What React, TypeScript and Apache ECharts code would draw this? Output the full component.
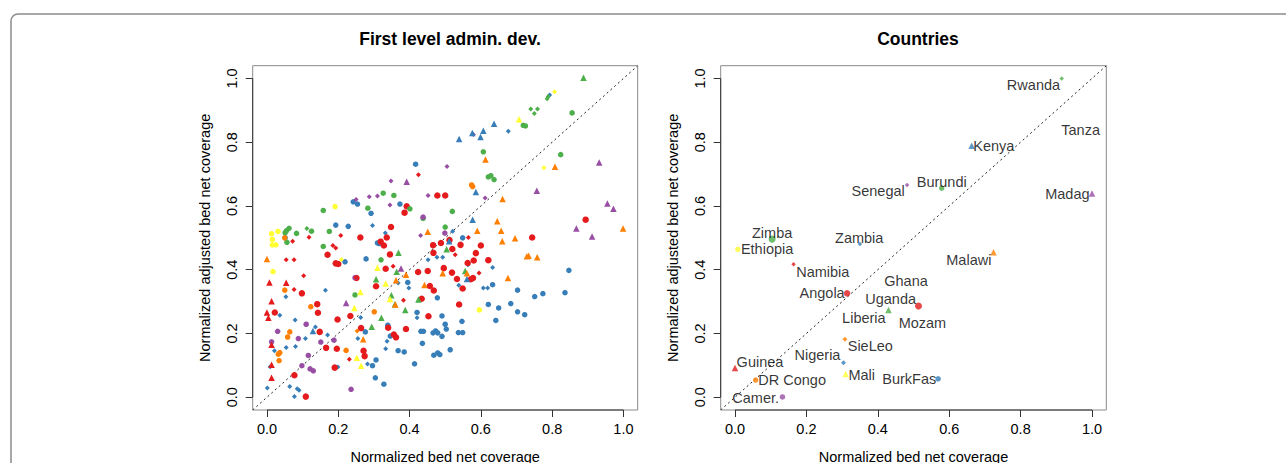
import React, { useEffect, useRef } from "react";
import * as echarts from "echarts";

// ---------- data ----------
const TICKS = [0, 0.2, 0.4, 0.6, 0.8, 1.0];
const AXIS_MIN = -0.04;
const AXIS_MAX = 1.04;

const leftTitle = "First level admin. dev.";
const rightTitle = "Countries";
const xTitle = "Normalized bed net coverage";
const yTitle = "Normalized adjusted bed net coverage";

// Left panel: first-level admin divisions, grouped by colour + symbol
const blueCircle = [
  [0.417,0.731],[0.242,0.613],[0.254,0.606],[0.292,0.577],[0.373,0.606],[0.193,0.540],[0.228,0.536],[0.051,0.500],
  [0.219,0.425],[0.278,0.434],[0.310,0.484],[0.315,0.482],[0.395,0.360],[0.304,0.061],[0.328,0.041],[0.296,0.099],
  [0.306,0.117],[0.276,0.205],[0.339,0.226],[0.346,0.192],[0.368,0.146],[0.385,0.142],[0.414,0.105],[0.436,0.169],
  [0.432,0.207],[0.439,0.207],[0.421,0.266],[0.466,0.202],[0.473,0.208],[0.479,0.202],[0.468,0.132],[0.479,0.139],
  [0.485,0.134],[0.491,0.191],[0.500,0.229],[0.503,0.214],[0.491,0.255],[0.514,0.149],[0.478,0.312],[0.537,0.203],
  [0.549,0.203],[0.547,0.238],[0.549,0.500],[0.633,0.353],[0.621,0.291],[0.650,0.280],[0.642,0.241],[0.684,0.294],
  [0.703,0.268],[0.723,0.259],[0.703,0.336],[0.751,0.316],[0.774,0.325],[0.836,0.328],[0.847,0.398]
];
const blueDiamond = [
  [0.793,0.948],[0.677,0.834],[0.296,0.539],[0.332,0.515],[0.368,0.358],[0.398,0.343],[0.164,0.336],[0.053,0.315],
  [0.036,0.257],[0.079,0.242],[0.136,0.220],[0.170,0.195],[0.108,0.184],[0.021,0.146],[0.054,0.156],[0.080,0.159],
  [0.009,0.096],[0.199,0.095],[0.001,0.029],[0.064,0.034],[0.085,0.027],[0.090,0.022],[0.077,0.002],[0.282,0.104],
  [0.255,0.184],[0.263,0.250],[0.333,0.152],[0.337,0.176],[0.421,0.249],[0.538,0.351],[0.564,0.416],[0.607,0.343],
  [0.619,0.343],[0.633,0.407],[0.521,0.521],[0.452,0.431],[0.477,0.439],[0.493,0.439]
];
const blueTriangle = [
  [0.637,0.858],[0.607,0.836],[0.576,0.829],[0.599,0.816],[0.539,0.810],[0.586,0.644],[0.577,0.557],[0.129,0.208],
  [0.561,0.371],[0.511,0.489]
];
const redCircle = [
  [0.478,0.633],[0.500,0.633],[0.392,0.599],[0.386,0.579],[0.170,0.447],[0.193,0.420],[0.200,0.418],[0.262,0.501],
  [0.319,0.488],[0.336,0.501],[0.348,0.534],[0.345,0.448],[0.333,0.403],[0.306,0.348],[0.251,0.374],[0.141,0.292],
  [0.143,0.265],[0.098,0.326],[0.022,0.266],[0.148,0.205],[0.166,0.155],[0.196,0.152],[0.198,0.244],[0.077,0.069],
  [0.190,0.093],[0.109,0.002],[0.274,0.129],[0.271,0.146],[0.264,0.217],[0.234,0.255],[0.340,0.218],[0.356,0.197],
  [0.362,0.188],[0.390,0.214],[0.434,0.309],[0.453,0.254],[0.468,0.335],[0.457,0.349],[0.451,0.396],[0.424,0.393],
  [0.496,0.405],[0.519,0.391],[0.533,0.371],[0.539,0.291],[0.549,0.341],[0.572,0.370],[0.578,0.374],[0.563,0.421],
  [0.580,0.429],[0.621,0.430],[0.586,0.452],[0.600,0.476],[0.512,0.493],[0.520,0.465],[0.543,0.478],[0.488,0.484],
  [0.466,0.477],[0.467,0.453],[0.744,0.501],[0.894,0.557],[0.328,0.476]
];
const redDiamond = [
  [0.425,0.698],[0.118,0.502],[0.072,0.489],[0.207,0.507],[0.185,0.476],[0.193,0.468],[0.354,0.411],[0.249,0.376],
  [0.103,0.381],[0.076,0.338],[0.054,0.431],[0.076,0.431],[0.231,0.119],[0.383,0.304],[0.528,0.447],[0.565,0.501],
  [0.595,0.390]
];
const redTriangle = [
  [0.054,0.359],[0.007,0.360],[0.013,0.301],[0.000,0.266],[0.004,0.249],[0.013,0.165],[0.013,0.102],[0.013,0.061]
];
const greenCircle = [
  [0.856,0.892],[0.719,0.853],[0.725,0.851],[0.607,0.770],[0.824,0.761],[0.621,0.691],[0.628,0.695],[0.637,0.683],
  [0.326,0.640],[0.356,0.633],[0.283,0.593],[0.401,0.591],[0.520,0.583],[0.158,0.586],[0.175,0.520],[0.062,0.530],
  [0.055,0.523],[0.051,0.516],[0.056,0.486],[0.083,0.514],[0.125,0.521],[0.158,0.473],[0.320,0.431],[0.247,0.321],
  [0.500,0.534],[0.438,0.561]
];
const greenDiamond = [
  [0.789,0.943],[0.786,0.936],[0.740,0.904],[0.759,0.904],[0.750,0.890],[0.112,0.529]
];
const greenTriangle = [
  [0.888,1.002],[0.369,0.453],[0.364,0.394],[0.306,0.370],[0.294,0.221],[0.321,0.249],[0.425,0.307],[0.504,0.464],
  [0.556,0.396],[0.388,0.274],[0.349,0.320],[0.359,0.292]
];
const purpleCircle = [
  [0.438,0.565],[0.499,0.515],[0.247,0.375],[0.030,0.207],[0.110,0.229],[0.188,0.179],[0.151,0.173],[0.088,0.184],
  [0.013,0.174],[0.116,0.131],[0.098,0.099],[0.121,0.089],[0.130,0.083],[0.236,0.025]
];
const purpleDiamond = [
  [0.579,0.824],[0.505,0.724],[0.348,0.678],[0.612,0.625],[0.452,0.633],[0.287,0.629],[0.310,0.631],[0.250,0.620],
  [0.345,0.603],[0.431,0.507]
];
const purpleTriangle = [
  [0.932,0.736],[0.392,0.676],[0.757,0.648],[0.376,0.404],[0.222,0.296],[0.868,0.529],[0.912,0.504],[0.955,0.608],
  [0.972,0.591]
];
const orangeCircle = [
  [0.574,0.666],[0.577,0.661],[0.050,0.500],[0.123,0.284],[0.050,0.336],[0.064,0.205],[0.058,0.189],[0.032,0.135],
  [0.036,0.140],[0.034,0.115],[0.222,0.147],[0.301,0.268]
];
const orangeDiamond = [[0.253,0.208]];
const orangeTriangle = [
  [0.613,0.746],[0.808,0.723],[0.661,0.622],[0.000,0.434],[0.390,0.384],[0.362,0.367],[0.270,0.182],[0.442,0.352],
  [0.493,0.389],[0.561,0.389],[0.676,0.374],[0.646,0.552],[0.590,0.522],[0.657,0.522],[0.660,0.489],[0.696,0.499],
  [0.999,0.529],[0.729,0.442],[0.734,0.444],[0.758,0.439],[0.451,0.519],[0.360,0.291]
];
const yellowCircle = [
  [0.191,0.598],[0.013,0.513],[0.031,0.520],[0.015,0.495],[0.015,0.478],[0.025,0.478],[0.017,0.394],[0.596,0.274]
];
const yellowTriangle = [
  [0.707,0.872],[0.310,0.406],[0.333,0.357],[0.252,0.124],[0.264,0.099],[0.262,0.330],[0.245,0.280],[0.345,0.308]
];
const yellowDiamond = [[0.807,0.958],[0.777,0.720],[0.209,0.432]];

// Right panel: countries
const countryNames = ["Rwanda","Tanza","Kenya","Burundi","Senegal","Madag","Zimba","Ethiopia","Zambia","Namibia",
  "Malawi","Ghana","Angola","Uganda","Mozam","Liberia","SieLeo","Nigeria","Guinea","Mali","DR Congo","BurkFas","Camer."];
const countryX = [0.915,null,0.663,0.579,0.482,1.000,0.104,0.008,0.350,0.164,
  0.724,null,0.314,null,0.514,0.430,0.308,0.304,0.000,0.310,0.058,0.569,0.133];
const countryY = [1.000,null,0.789,0.656,0.666,0.639,0.496,0.464,0.481,0.417,
  0.455,null,0.326,null,0.286,0.274,0.182,0.108,0.092,0.073,0.054,0.058,0.001];
const countryGroup = ["greenDiamond","yellowDiamond","blueTriangle","greenCircle","purpleDiamond","purpleTriangle",
  "greenCircle","yellowCircle","blueDiamond","redDiamond","orangeTriangle","yellowDiamond","redCircle","redCircle",
  "redCircle","greenTriangle","orangeDiamond","blueDiamond","redTriangle","yellowTriangle","orangeCircle","blueCircle","purpleCircle"];
// where each country's name is written (label centre, data units)
const labelX = [0.836,0.968,0.725,0.579,0.401,0.931,0.104,0.090,0.348,0.246,
  0.655,0.479,0.244,0.436,0.525,0.361,0.379,0.231,0.070,0.355,0.160,0.488,0.058];
const labelY = [0.978,0.839,0.789,0.676,0.648,0.639,0.516,0.466,0.500,0.394,
  0.432,0.365,0.328,0.309,0.234,0.250,0.162,0.132,0.109,0.070,0.055,0.057,-0.001];

// ---------- styles ----------
const COLORS: Record<string, string> = {
  blue: "#377EB8", red: "#E41A1C", green: "#4DAF4A", purple: "#984EA3", orange: "#FF7F00", yellow: "#FFFF33",
};
const SHAPES: Record<string, string> = { Circle: "circle", Diamond: "diamond", Triangle: "triangle" };
const SIZES: Record<string, number> = { circle: 5.5, diamond: 5, triangle: 6.5 };
const FONT = "'Liberation Sans', Arial, Helvetica, sans-serif";
const FS = 14.5;

const groups: Record<string, number[][]> = {
  blueCircle, blueDiamond, blueTriangle, redCircle, redDiamond, redTriangle, greenCircle, greenDiamond, greenTriangle,
  purpleCircle, purpleDiamond, purpleTriangle, orangeCircle, orangeDiamond, orangeTriangle, yellowCircle, yellowTriangle, yellowDiamond,
};
const groupOrder = ["blueCircle","blueDiamond","redCircle","greenCircle","purpleCircle","orangeCircle","yellowCircle",
  "redDiamond","greenDiamond","purpleDiamond","orangeDiamond","yellowDiamond",
  "blueTriangle","redTriangle","greenTriangle","purpleTriangle","orangeTriangle","yellowTriangle"];

function parseGroup(key: string) {
  const m = key.match(/^(blue|red|green|purple|orange|yellow)(Circle|Diamond|Triangle)$/)!;
  const shape = SHAPES[m[2]];
  let size = SIZES[shape];
  if (key === "redCircle") size = 6.5;
  return { color: COLORS[m[1]], shape, size };
}

function axisPair(gridIndex: number) {
  const common = {
    gridIndex,
    min: AXIS_MIN,
    max: AXIS_MAX,
    type: "value" as const,
    splitLine: { show: false },
    axisLine: { show: false, onZero: false },
    axisTick: { show: true, length: 7, customValues: TICKS, lineStyle: { color: "#333", width: 1 } },
    nameLocation: "middle" as const,
    nameTextStyle: { fontSize: FS, fontFamily: FONT, color: "#000" },
  };
  const x = {
    ...common,
    name: xTitle,
    nameGap: 39,
    axisLabel: {
      customValues: TICKS, formatter: (v: number) => v.toFixed(1), margin: 11,
      fontSize: FS, fontFamily: FONT, color: "#000",
    },
  };
  const y = {
    ...common,
    name: yTitle,
    nameGap: 40,
    axisLabel: {
      customValues: TICKS, formatter: (v: number) => v.toFixed(1), margin: 13, rotate: 90,
      fontSize: FS, fontFamily: FONT, color: "#000",
    },
  };
  return { x, y };
}

function frameSeries(idx: number) {
  const first = TICKS[0];
  const last = TICKS[TICKS.length - 1];
  const base = {
    type: "line" as const, xAxisIndex: idx, yAxisIndex: idx, symbol: "none", silent: true, clip: false,
    lineStyle: { color: "#333", width: 1 }, z: 1,
  };
  return [
    { ...base, data: [[first, AXIS_MIN], [last, AXIS_MIN]] },
    { ...base, data: [[AXIS_MIN, first], [AXIS_MIN, last]] },
    {
      ...base, clip: true, lineStyle: { color: "#222", width: 1, type: [2, 3] },
      data: [[AXIS_MIN, AXIS_MIN], [AXIS_MAX, AXIS_MAX]],
    },
  ];
}

export default function App() {
  const ref = useRef<HTMLDivElement>(null);

  useEffect(() => {
    if (!ref.current) return;
    const chart = echarts.init(ref.current, undefined, { renderer: "svg" });

    const a0 = axisPair(0);
    const a1 = axisPair(1);

    const leftSeries = groupOrder.map((key) => {
      const g = parseGroup(key);
      return {
        type: "scatter" as const, xAxisIndex: 0, yAxisIndex: 0, name: key,
        symbol: g.shape, symbolSize: g.size, data: groups[key],
        itemStyle: { color: g.color, opacity: 1 }, z: 3,
      };
    });

    const countryPoints = countryNames
      .map((name, i) => {
        if (countryX[i] === null || countryY[i] === null) return null;
        const g = parseGroup(countryGroup[i]);
        let size = g.size;
        if (name === "Zimba" || name === "Mozam") size = 7;
        if (name === "Rwanda" || name === "Zambia" || name === "Senegal" || name === "Namibia") size = 4.5;
        return { name, value: [countryX[i], countryY[i]], symbol: g.shape, symbolSize: size, itemStyle: { color: g.color } };
      })
      .filter((d) => d !== null);

    const labelPoints = countryNames.map((name, i) => ({ name, value: [labelX[i], labelY[i]] }));

    const titleStyle = { fontSize: 17.5, fontWeight: "bold" as const, fontFamily: FONT, color: "#000" };
    const gridBase = {
      top: 65.7, height: 344.3, show: true, borderColor: "#8a8a8a", borderWidth: 1,
      backgroundColor: "transparent", containLabel: false, outerBoundsMode: "none",
    };

    chart.setOption({
      animation: false,
      backgroundColor: "#fff",
      title: [
        { text: leftTitle, left: 445, top: 25, textAlign: "center", textStyle: titleStyle },
        { text: rightTitle, left: 913, top: 25, textAlign: "center", textStyle: titleStyle },
      ],
      grid: [
        { ...gridBase, left: 252.7, width: 385 },
        { ...gridBase, left: 720.7, width: 385.6 },
      ],
      xAxis: [a0.x, a1.x],
      yAxis: [a0.y, a1.y],
      graphic: [
        { type: "rect", shape: { x: 11, y: 14, width: 1300, height: 480, r: 7 },
          style: { fill: "none", stroke: "#8c8c8c", lineWidth: 1.5 }, silent: true },
      ],
      series: [
        ...frameSeries(0),
        ...frameSeries(1),
        ...leftSeries,
        {
          type: "scatter", xAxisIndex: 1, yAxisIndex: 1, data: countryPoints, z: 3,
        },
        {
          type: "scatter", xAxisIndex: 1, yAxisIndex: 1, data: labelPoints, symbolSize: 1, z: 4, silent: true,
          itemStyle: { color: "rgba(0,0,0,0)" },
          label: {
            show: true, position: "inside", formatter: (p: any) => p.name,
            fontSize: FS, fontFamily: FONT, color: "#000",
          },
        },
      ],
    });

    return () => chart.dispose();
  }, []);

  return (
    <div
      ref={ref}
      style={{ position: "fixed", left: 0, top: 0, width: 1286, height: 463, background: "#fff" }}
    />
  );
}
